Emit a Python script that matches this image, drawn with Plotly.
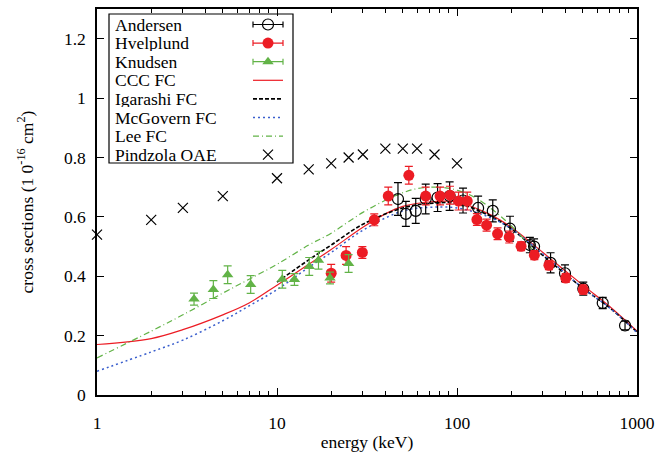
import plotly.graph_objects as go

# ---- data ----
E_and = [47, 52, 59, 67, 78, 91, 108, 131, 158, 197, 254, 268, 331, 398, 503, 645, 858]
s_and = [0.66, 0.61, 0.62, 0.66, 0.665, 0.67, 0.655, 0.63, 0.62, 0.56, 0.505, 0.50, 0.445, 0.41, 0.358, 0.31, 0.234]
e_and = [0.055, 0.042, 0.042, 0.05, 0.047, 0.048, 0.042, 0.04, 0.037, 0.042, 0.026, 0.026, 0.034, 0.028, 0.022, 0.019, 0.015]

E_hv = [20, 24.2, 29.8, 34.7, 41.5, 54, 67, 80.5, 91.4, 102, 114, 129, 146, 168, 195, 227, 269, 324, 402, 503]
s_hv = [0.41, 0.47, 0.48, 0.59, 0.67, 0.74, 0.67, 0.67, 0.673, 0.653, 0.653, 0.591, 0.572, 0.543, 0.532, 0.501, 0.471, 0.437, 0.394, 0.355]
e_hv = [0.03, 0.03, 0.02, 0.02, 0.03, 0.03, 0.03, 0.03, 0.03, 0.03, 0.03, 0.02, 0.02, 0.02, 0.02, 0.015, 0.015, 0.015, 0.015, 0.015]

E_kn = [3.46, 4.43, 5.32, 7.14, 10.7, 12.5, 15.1, 17.0, 19.7, 25.0]
s_kn = [0.323, 0.355, 0.405, 0.372, 0.39, 0.389, 0.433, 0.454, 0.394, 0.443]
e_kn = [0.02, 0.03, 0.03, 0.03, 0.03, 0.02, 0.03, 0.03, 0.02, 0.03]

E_ccc = [1, 2, 3, 5, 7, 10, 15, 20, 30, 40, 50, 70, 100, 150, 200, 300, 500, 700, 1000]
s_ccc = [0.17, 0.19, 0.22, 0.27, 0.31, 0.37, 0.44, 0.49, 0.565, 0.61, 0.635, 0.65, 0.65, 0.61, 0.565, 0.48, 0.37, 0.30, 0.215]

E_iga = [10, 15, 20, 30, 50, 70, 100, 150, 200, 300, 500, 700, 1000]
s_iga = [0.38, 0.455, 0.505, 0.575, 0.63, 0.645, 0.645, 0.605, 0.56, 0.47, 0.36, 0.295, 0.212]

E_mcg = [1, 2, 3, 5, 7, 10, 15, 20, 30, 50, 70, 100, 150, 200, 300, 500, 700, 1000]
s_mcg = [0.08, 0.145, 0.185, 0.25, 0.30, 0.355, 0.43, 0.48, 0.555, 0.62, 0.632, 0.63, 0.60, 0.56, 0.475, 0.36, 0.295, 0.21]

E_lee = [1, 2, 3, 5, 7, 10, 15, 20, 30, 45, 60, 80, 100, 130, 200, 275]
s_lee = [0.125, 0.215, 0.27, 0.343, 0.39, 0.44, 0.505, 0.545, 0.615, 0.67, 0.695, 0.70, 0.69, 0.66, 0.57, 0.475]

E_pin = [1, 2, 3, 5, 10, 15, 20, 25, 30, 40, 50, 60, 75, 100]
s_pin = [0.54, 0.59, 0.63, 0.67, 0.73, 0.76, 0.78, 0.80, 0.81, 0.83, 0.83, 0.83, 0.81, 0.78]

x_ticks = [1, 10, 100, 1000]
x_minor = [2, 3, 4, 5, 6, 7, 8, 9, 20, 30, 40, 50, 60, 70, 80, 90, 200, 300, 400, 500, 600, 700, 800, 900]
y_ticks = [0, 0.2, 0.4, 0.6, 0.8, 1.0, 1.2]
y_labels = ["0", "0.2", "0.4", "0.6", "0.8", "1", "1.2"]

legend_names = ["Andersen", "Hvelplund", "Knudsen", "CCC FC", "Igarashi FC",
                "McGovern FC", "Lee FC", "Pindzola OAE"]

RED = "#ec1c24"
GREEN = "#62b347"
BLUE = "#3a5fcd"
FONT = "'Liberation Serif', 'Times New Roman', Times, serif"
FS = 17.5

styles = {
    "Andersen": dict(kind="marker", marker=dict(symbol="circle-open", size=11, color="black", line=dict(width=1.2, color="black")), color="black"),
    "Hvelplund": dict(kind="marker", marker=dict(symbol="circle", size=11, color=RED), color=RED),
    "Knudsen": dict(kind="marker", marker=dict(symbol="triangle-up", size=10, color=GREEN), color=GREEN),
    "CCC FC": dict(kind="line", line=dict(color=RED, width=1.2)),
    "Igarashi FC": dict(kind="line", line=dict(color="black", width=1.6, dash="4px,2px")),
    "McGovern FC": dict(kind="line", line=dict(color=BLUE, width=1.5, dash="2px,3px")),
    "Lee FC": dict(kind="line", line=dict(color=GREEN, width=1.2, dash="6px,3px,1px,3px")),
    "Pindzola OAE": dict(kind="cross", marker=dict(symbol="x-thin-open", size=10, color="black", line=dict(width=1.2, color="black"))),
}

fig = go.Figure()

fig.add_trace(go.Scatter(x=E_ccc, y=s_ccc, mode="lines", name="CCC FC",
    line=dict(styles["CCC FC"]["line"], shape="spline")))
fig.add_trace(go.Scatter(x=E_iga, y=s_iga, mode="lines", name="Igarashi FC",
    line=dict(styles["Igarashi FC"]["line"], shape="spline")))
fig.add_trace(go.Scatter(x=E_mcg, y=s_mcg, mode="lines", name="McGovern FC",
    line=dict(styles["McGovern FC"]["line"], shape="spline")))
fig.add_trace(go.Scatter(x=E_lee, y=s_lee, mode="lines", name="Lee FC",
    line=dict(styles["Lee FC"]["line"], shape="spline")))
fig.add_trace(go.Scatter(x=E_and, y=s_and, mode="markers", name="Andersen",
    marker=styles["Andersen"]["marker"],
    error_y=dict(type="data", array=e_and, color="black", thickness=1.2, width=4)))
fig.add_trace(go.Scatter(x=E_hv, y=s_hv, mode="markers", name="Hvelplund",
    marker=styles["Hvelplund"]["marker"],
    error_y=dict(type="data", array=e_hv, color=RED, thickness=1.2, width=4)))
fig.add_trace(go.Scatter(x=E_kn, y=s_kn, mode="markers", name="Knudsen",
    marker=styles["Knudsen"]["marker"],
    error_y=dict(type="data", array=e_kn, color=GREEN, thickness=1.2, width=4)))
fig.add_trace(go.Scatter(x=E_pin, y=s_pin, mode="markers", name="Pindzola OAE",
    marker=styles["Pindzola OAE"]["marker"], cliponaxis=False))

# ---- gnuplot-style key (text left, sample right) ----
PLOT_W, PLOT_H = 540, 386
def fx(px):  # pixel offset from plot left -> fraction
    return px / PLOT_W
def fy(py):  # pixel offset from plot top -> fraction
    return 1 - py / PLOT_H

box_l, box_r, box_t, box_b = fx(12), fx(196), fy(5), fy(154)
fig.add_shape(type="rect", xref="paper", yref="paper", x0=box_l, x1=box_r, y0=box_b, y1=box_t,
              line=dict(color="black", width=1.2), fillcolor="white", layer="below")
row0, row_gap = 15.5, 18.6
smp_l, smp_r = fx(156), fx(186)
smp_c = (smp_l + smp_r) / 2
for i, name in enumerate(legend_names):
    yy = fy(row0 + i * row_gap)
    fig.add_annotation(x=fx(17), y=yy, xref="paper", yref="paper", text=name,
                       showarrow=False, xanchor="left", yanchor="middle", borderpad=0,
                       height=16, valign="middle",
                       font=dict(family=FONT, size=FS, color="black"))
    st = styles[name]
    if st["kind"] == "line":
        fig.add_shape(type="line", xref="paper", yref="paper", x0=smp_l, x1=smp_r, y0=yy, y1=yy,
                      line=st["line"], layer="above")
    elif st["kind"] == "marker":
        fig.add_trace(go.Scatter(x=[smp_c], y=[yy], xaxis="x2", yaxis="y2", mode="markers",
                                 marker=st["marker"], showlegend=False, hoverinfo="skip",
                                 error_x=dict(type="constant", value=(smp_r - smp_l) / 2,
                                              color=st["color"], thickness=1.2, width=3)))
    else:
        fig.add_trace(go.Scatter(x=[smp_c], y=[yy], xaxis="x2", yaxis="y2", mode="markers",
                                 marker=st["marker"], showlegend=False, hoverinfo="skip"))

fig.update_layout(
    width=657, height=454,
    margin=dict(l=97, r=20, t=9, b=59),
    paper_bgcolor="white", plot_bgcolor="white",
    font=dict(family=FONT, size=FS, color="black"),
    showlegend=False,
    xaxis=dict(type="log", range=[0, 3], tickvals=x_ticks, ticktext=[str(v) for v in x_ticks],
               ticks="inside", ticklen=7, tickwidth=1, tickcolor="black",
               showline=True, linecolor="black", linewidth=1.5, mirror="ticks",
               showgrid=False, zeroline=False, ticklabelstandoff=11, automargin=False,
               minor=dict(tickvals=x_minor, ticks="inside", ticklen=4, tickcolor="black", showgrid=False),
               title=dict(text="energy (keV)", font=dict(family=FONT, size=FS), standoff=4),
               tickfont=dict(family=FONT, size=FS)),
    yaxis=dict(range=[0, 1.3], tickvals=y_ticks, ticktext=y_labels,
               ticks="inside", ticklen=7, tickwidth=1, tickcolor="black",
               showline=True, linecolor="black", linewidth=1.5, mirror="ticks",
               showgrid=False, zeroline=False, ticklabelstandoff=6, automargin=False,
               title=dict(text="cross sections (1 0<sup>-16</sup> cm<sup>2</sup>)", font=dict(family=FONT, size=FS), standoff=26),
               tickfont=dict(family=FONT, size=FS)),
    xaxis2=dict(overlaying="x", range=[0, 1], visible=False, fixedrange=True),
    yaxis2=dict(overlaying="y", range=[0, 1], visible=False, fixedrange=True),
)

fig.write_html("out.html")
